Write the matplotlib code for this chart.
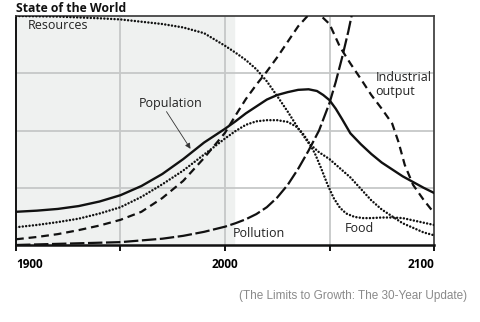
import matplotlib
matplotlib.use("Agg")
import matplotlib.pyplot as plt

# values (year, index units 0..4)
pop_years = [1900, 1910, 1920, 1930, 1940, 1950, 1960, 1970, 1980, 1990, 2000, 2005, 2010, 2015, 2020, 2025, 2030,
             2035, 2040, 2044, 2047, 2050, 2053, 2056, 2060, 2065, 2070, 2075, 2080, 2085, 2090, 2095, 2100]
pop_vals = [0.58, 0.60, 0.63, 0.68, 0.76, 0.87, 1.03, 1.24, 1.50, 1.79, 2.03, 2.16, 2.30, 2.42, 2.54, 2.62, 2.67,
            2.71, 2.72, 2.69, 2.62, 2.53, 2.38, 2.20, 1.95, 1.76, 1.59, 1.44, 1.32, 1.20, 1.10, 1.00, 0.91]

food_years = [1900, 1910, 1920, 1930, 1940, 1950, 1960, 1970, 1980, 1990, 2000, 2005, 2010, 2015, 2020, 2025, 2030,
              2034, 2037, 2040, 2043, 2046, 2049, 2052, 2055, 2058, 2062, 2066, 2070, 2075, 2080, 2085, 2090, 2095, 2100]
food_vals = [0.31, 0.35, 0.40, 0.46, 0.55, 0.66, 0.84, 1.06, 1.30, 1.58, 1.86, 1.99, 2.10, 2.16, 2.18, 2.18, 2.15,
             2.07, 1.96, 1.80, 1.60, 1.34, 1.06, 0.82, 0.65, 0.55, 0.49, 0.47, 0.47, 0.48, 0.48, 0.47, 0.43, 0.39, 0.35]

ind_years = [1900, 1910, 1920, 1930, 1940, 1950, 1960, 1970, 1980, 1990, 2000, 2005, 2010, 2015, 2020, 2025, 2030,
             2035, 2040, 2043, 2046, 2050, 2055, 2060, 2065, 2070, 2075, 2080, 2083, 2086, 2090, 2095, 2100]
ind_vals = [0.10, 0.14, 0.19, 0.26, 0.34, 0.44, 0.58, 0.82, 1.12, 1.52, 1.96, 2.26, 2.55, 2.80, 3.03, 3.28, 3.55,
            3.82, 4.02, 4.06, 4.00, 3.86, 3.46, 3.17, 2.90, 2.62, 2.38, 2.12, 1.80, 1.40, 1.05, 0.79, 0.56]

poll_years = [1900, 1920, 1940, 1950, 1960, 1970, 1980, 1990, 2000, 2005, 2010, 2015, 2020, 2025, 2030, 2035, 2040,
              2045, 2050, 2053, 2056, 2059, 2062]
poll_vals = [0.0, 0.02, 0.04, 0.05, 0.08, 0.11, 0.16, 0.23, 0.32, 0.38, 0.45, 0.54, 0.66, 0.83, 1.05, 1.33, 1.65,
             2.00, 2.48, 2.85, 3.27, 3.73, 4.25]

res_years = [1900, 1920, 1940, 1950, 1960, 1970, 1980, 1990, 2000, 2005, 2010, 2015, 2020, 2025, 2030, 2035, 2040,
             2045, 2050, 2055, 2060, 2065, 2070, 2075, 2080, 2085, 2090, 2095, 2100]
res_vals = [4.0, 3.99, 3.96, 3.94, 3.90, 3.86, 3.80, 3.70, 3.48, 3.36, 3.23, 3.07, 2.86, 2.60, 2.33, 2.04, 1.78,
            1.62, 1.50, 1.34, 1.18, 0.98, 0.78, 0.62, 0.50, 0.38, 0.30, 0.22, 0.17]

xticks = [1900, 1950, 2000, 2050, 2100]
xlabels = ["1900", "", "2000", "", "2100"]

plt.rcParams["font.family"] = ["Open Sans", "DejaVu Sans"]

fig = plt.figure(figsize=(4.8, 3.22), dpi=100)
ax = fig.add_axes([16 / 480, 77 / 322, 418 / 480, 229 / 322])

ax.axvspan(1900, 2004.5, color="#eff1f0", zorder=0)
for x in [1950, 2000, 2050]:
    ax.axvline(x, color="#c6c8c8", lw=1.3, zorder=1)
for y in [1, 2, 3]:
    ax.axhline(y, color="#c6c8c8", lw=1.3, zorder=1)

dot = (0, (0.01, 1.35))
ax.plot(res_years, res_vals, color="#111", lw=1.8, ls=dot, dash_capstyle="round", zorder=3)
ax.plot(food_years, food_vals, color="#111", lw=1.8, ls=dot, dash_capstyle="round", zorder=3)
ax.plot(ind_years, ind_vals, color="#111", lw=1.6, ls=(0, (3.5, 2.2)), zorder=3)
ax.plot(poll_years, poll_vals, color="#111", lw=1.6, ls=(0, (6.5, 1.6)), zorder=3)
ax.plot(pop_years, pop_vals, color="#111", lw=1.7, zorder=4)

ax.set_xlim(1900, 2100)
ax.set_ylim(0, 4)
ax.set_yticks([])
ax.set_xticks(xticks)
ax.set_xticklabels(xlabels, fontweight="bold", fontsize=8.5)
lbls = ax.get_xticklabels()
lbls[0].set_ha("left")
lbls[4].set_ha("right")
ax.tick_params(axis="x", length=4, width=1.4, color="#111", pad=5)

for side in ["left", "bottom"]:
    ax.spines[side].set_color("#111")
ax.spines["left"].set_linewidth(1.4)
ax.spines["bottom"].set_linewidth(1.8)
for side in ["top", "right"]:
    ax.spines[side].set_color("#444")
    ax.spines[side].set_linewidth(1.3)

lab = dict(fontsize=9, color="#222", zorder=5)
ax.text(1905.5, 3.83, "Resources", va="center", **lab)
ax.text(1958.5, 2.48, "Population", va="center", **lab)
ax.text(2072, 2.8, "Industrial\noutput", va="center", linespacing=1.05, **lab)
ax.text(2003.5, 0.2, "Pollution", va="center", **lab)
ax.text(2057.5, 0.29, "Food", va="center", **lab)
ax.annotate("", xy=(1983.5, 1.68), xytext=(1972, 2.33),
            arrowprops=dict(arrowstyle="-|>", lw=0.6, color="#333",
                            mutation_scale=8, shrinkA=0, shrinkB=0), zorder=5)

fig.text(16 / 480, 1 - 8 / 322, "State of the World", fontsize=8.8, fontweight="bold",
         va="center", ha="left", color="#111")
fig.text(467 / 480, 1 - 296 / 322, "(The Limits to Growth: The 30-Year Update)",
         fontsize=8.5, ha="right", va="center", color="#8a8a8a", family="Liberation Sans")

fig.savefig("out.png", dpi=100)
